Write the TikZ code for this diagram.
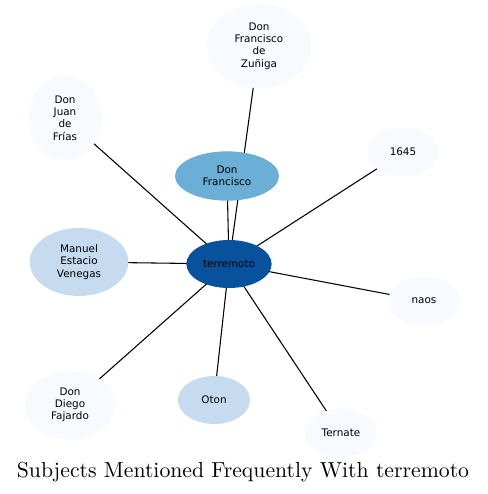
\documentclass[tikz,border=0pt]{standalone}
\usepackage{fontspec}
\newfontfamily\nodefont{DejaVu Sans}
\usetikzlibrary{shapes.geometric,backgrounds}
\definecolor{palest}{RGB}{247,251,255}
\definecolor{pale}{RGB}{198,219,239}
\definecolor{mid}{RGB}{107,174,214}
\definecolor{deep}{RGB}{8,81,156}
\tikzset{>=latex}
\tikzset{subj/.style={ellipse, inner sep=0pt, align=center,
    font=\nodefont\fontsize{7.8}{9.2}\selectfont}}
\tikzset{link/.style={black, line width=0.8pt}}

\begin{document}
\begin{tikzpicture}[x=0.75pt, y=-0.75pt]
          \useasboundingbox (0,0) rectangle (487,494);
          \node[subj, fill=deep, minimum width=64pt, minimum height=36pt] (terremoto) at (229,264) {terremoto};
          \node[subj, fill=mid, minimum width=78pt, minimum height=37pt] (francisco) at (227,176) {Don\\Francisco};
          \node[subj, fill=palest, minimum width=78pt, minimum height=63pt] (zuniga) at (259,46) {Don\\Francisco\\de\\Zuñiga};
          \node[subj, fill=palest, minimum width=55pt, minimum height=63pt] (frias) at (65,118) {Don\\Juan\\de\\Frías};
          \node[subj, fill=palest, minimum width=54pt, minimum height=36pt] (year) at (403,152) {1645};
          \node[subj, fill=pale, minimum width=74pt, minimum height=51pt] (venegas) at (79,262) {Manuel\\Estacio\\Venegas};
          \node[subj, fill=palest, minimum width=54pt, minimum height=36pt] (naos) at (424,301) {naos};
          \node[subj, fill=palest, minimum width=68pt, minimum height=51pt] (fajardo) at (70,405) {Don\\Diego\\Fajardo};
          \node[subj, fill=pale, minimum width=54pt, minimum height=36pt] (oton) at (214,400) {Oton};
          \node[subj, fill=palest, minimum width=54pt, minimum height=36pt] (ternate) at (341,433) {Ternate};
          \node[font=\fontsize{10}{12}\selectfont, scale=1.63, transform shape] (title) at (243,472) {Subjects Mentioned Frequently With terremoto};
          \begin{pgfonlayer}{background}
            \foreach \other in {francisco,zuniga,frias,year,venegas,naos,fajardo,oton,ternate}
              \draw[link] (terremoto.center) -- (\other.center);
          \end{pgfonlayer}
        \end{tikzpicture}
\end{document}
